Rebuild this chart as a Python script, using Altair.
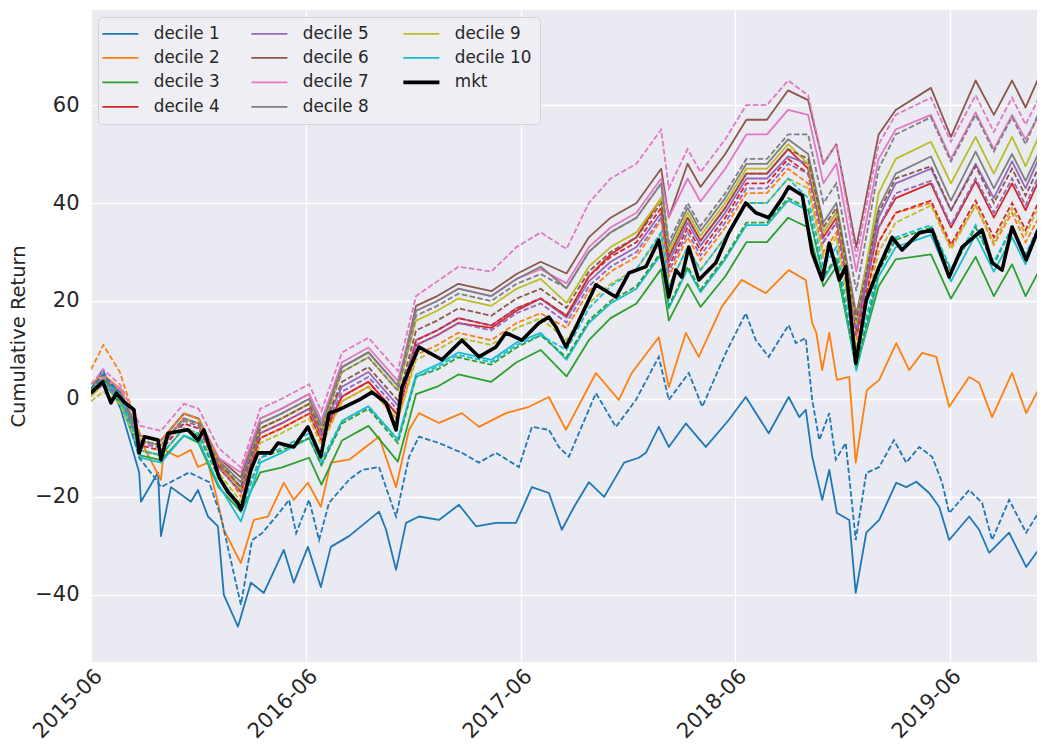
import altair as alt
import pandas as pd

START = pd.Timestamp("2015-06-01")

# ---- cluster series share one sampling grid ----
dates = ["2015-06-01", "2015-06-22", "2015-07-20", "2015-08-24", "2015-09-28", "2015-11-06",
         "2015-12-01", "2016-01-04", "2016-02-11", "2016-03-15", "2016-04-20", "2016-06-06",
         "2016-06-27", "2016-08-01", "2016-09-15", "2016-11-04", "2016-12-05", "2017-01-10",
         "2017-02-15", "2017-04-12", "2017-05-25", "2017-07-05", "2017-08-18", "2017-09-25",
         "2017-11-01", "2017-12-15", "2018-01-26", "2018-02-08", "2018-03-12", "2018-04-03",
         "2018-05-15", "2018-06-20", "2018-07-25", "2018-08-30", "2018-10-03", "2018-10-29",
         "2018-11-20", "2018-12-24", "2019-01-31", "2019-03-01", "2019-04-30", "2019-06-03",
         "2019-07-15", "2019-08-15", "2019-09-15", "2019-10-08", "2019-11-08"]

# ---- market (days since 2015-06-01, value) ----
mkt_days = [0, 20, 34, 43, 56, 73, 82, 91, 114, 119, 131, 165, 182, 192, 218, 233, 250, 255, 272, 284,
            306, 318, 345, 369, 391, 405, 422, 456, 478, 502, 519, 529, 541, 558, 597, 631, 660, 689, 706, 733,
            762, 779, 791, 808, 825, 859, 893, 915, 944, 966, 983, 995, 1005, 1017, 1034, 1063, 1085, 1114, 1131, 1153,
            1176, 1187, 1210, 1227, 1244, 1256, 1273, 1284, 1301, 1319, 1341, 1363, 1380, 1409, 1431, 1460, 1482, 1516, 1533, 1550,
            1567, 1591, 1618]
mkt = [1.2, 3.5, -0.8, 1.2, -0.6, -2.2, -11, -7.7, -8.4, -12.4, -7, -6.3, -8.4, -6.3, -16, -19, -21.3, -22.6, -14.5, -11,
       -11, -9, -9.8, -5.7, -11.8, -2.9, -2.2, -0.2, 1.4, -0.8, -6.3, 2.4, 5.9, 10.6, 8, 12, 8.6, 10.6, 13.5, 12,
       15.5, 16.7, 14.7, 10.6, 14.7, 23.3, 20.8, 25.7, 27, 32.4, 20.8, 26.3, 24.9, 31, 24.3, 27.8, 33.9, 40, 38, 37,
       41, 43.3, 41.6, 29.8, 24.3, 31.8, 24.3, 27, 7.3, 20.2, 27, 33, 30.4, 33.9, 34.5, 24.9, 31, 34.5, 27.8, 26.3,
       35.1, 28.4, 36.5]

# ---- decile 1 (solid) ----
d1_days = [0, 20, 51, 82, 85, 114, 119, 136, 170, 182, 199, 216, 226, 250, 272, 294, 328, 345, 369, 391,
           408, 439, 490, 502, 519, 536, 558, 592, 626, 655, 689, 723, 750, 779, 801, 822, 847, 873, 907, 932,
           944, 966, 983, 1012, 1046, 1085, 1114, 1153, 1187, 1205, 1216, 1227, 1244, 1256, 1269, 1290, 1301, 1319, 1341, 1370,
           1387, 1404, 1426, 1443, 1460, 1494, 1511, 1528, 1562, 1591, 1618]
d1 = [2, 6, -2.2, -15, -21, -15, -28, -18, -21, -18.6, -24, -26, -40, -46.5, -37.5, -39.6, -30.8, -37.5, -30.2, -38.4,
      -30.2, -28, -23, -26.7, -34.9, -25.3, -24, -24.7, -21.6, -26, -25.3, -25.3, -18, -19.2, -26.7, -22, -17, -20, -13, -12,
      -11, -5.7, -9.8, -5, -9.8, -4.3, 0.4, -7, 0.4, -3.7, -2.2, -11.8, -20.6, -14.5, -23.3, -24.7, -39.6, -27.3, -24.7, -17.1,
      -18, -16.9, -19.2, -22, -28.8, -24, -26.7, -31.4, -27.3, -34.3, -29.8]

# ---- decile 1 (dashed) ----
d1b_days = [0, 20, 51, 82, 111, 119, 167, 201, 221, 255, 274, 291, 315, 337, 349, 371, 388, 405, 439, 461,
            490, 519, 541, 558, 592, 631, 660, 689, 728, 750, 779, 796, 813, 859, 893, 927, 966, 983, 1017, 1040,
            1080, 1114, 1131, 1153, 1187, 1199, 1216, 1227, 1239, 1256, 1267, 1284, 1301, 1319, 1341, 1366, 1387, 1409, 1431, 1448,
            1460, 1494, 1516, 1533, 1562, 1591, 1618]
d1b = [2, 5, 1, -12, -16.5, -18, -15, -17, -24, -42, -28.8, -27.4, -24, -20.6, -27.4, -20.6, -28.8, -21.2, -16.5, -14.5,
       -13.9, -24, -11.8, -7.7, -9, -11, -13, -11, -13.9, -5.7, -6.3, -9.8, -11.8, 1.2, -5.7, -0.2, 8.6, -0.2, 5.3, -1.6,
       9.4, 17.5, 12, 8.6, 15.1, 11.4, 12.4, -0.2, -8.4, -2.9, -12.4, -9, -28.8, -15.1, -13.9, -8.4, -13, -9.8, -11.8, -17.1,
       -23.3, -18.6, -21.2, -28.8, -20.6, -27.3, -22]

# ---- decile 2 (solid) ----
d2_days = [0, 20, 51, 82, 119, 124, 148, 170, 182, 199, 216, 226, 255, 277, 301, 328, 345, 369, 391, 408,
           439, 490, 519, 541, 558, 592, 631, 660, 706, 745, 779, 808, 859, 898, 920, 966, 983, 1012, 1034, 1073,
           1107, 1148, 1187, 1216, 1227, 1234, 1244, 1256, 1269, 1290, 1301, 1320, 1341, 1370, 1392, 1414, 1438, 1460, 1494, 1511,
           1533, 1567, 1591, 1618]
d2 = [3, 5, 2, -8, -16.5, -10.4, -11.8, -10.4, -13.9, -13, -21.2, -26.7, -33.5, -24.7, -24, -17.1, -20.6, -17.1, -22, -13,
      -12.4, -7.7, -18, -6.3, -2.9, -4.9, -2.9, -5.7, -2.9, -1.6, 0.4, -6.3, 5.3, -0.2, 5.3, 12.6, 2.4, 13.5, 8.6, 18.8,
      24.3, 21.6, 26.3, 24.3, 15.5, 13.5, 5.9, 13.5, 3.9, 4.5, -13, 1.8, 3.9, 11.4, 5.9, 9.4, 8.6, -1.6, 4.5, 3.3,
      -3.7, 5.3, -2.9, 3.3]

# ---- the remaining solid deciles (on the shared grid) ----
d3 = [1, 3, -0.5, -11.5, -12.5, -7.5, -9, -18, -23, -15, -14, -12, -17.5, -8.5, -5.5, -12.8, 1, 2.5, 5, 3.5,
      7.5, 10, 4.6, 12, 16.5, 19.5, 26.5, 16, 23.5, 18.8, 25, 32, 32, 37, 35, 23, 27, 6.3, 23, 28.5,
      29.5, 20.5, 29, 21, 27.5, 21, 28]
d4 = [1, 3.5, 1, -8.5, -9.5, -4, -5, -13.5, -18, -7, -5, -2, -7.5, 0.5, 3.5, -3.3, 11, 13, 15.5, 14.5,
      18, 20.5, 17, 25, 29.5, 33, 41, 29, 37, 32.3, 39, 46, 46, 51, 47, 33, 37, 14, 35, 41,
      44, 35, 44.5, 37, 44, 38.5, 47]
d5 = [1.5, 3.5, 1, -8.5, -9.5, -4, -5, -13, -18, -6, -4, -1, -6.5, 2.5, 5.5, -1.3, 12, 14, 16.5, 15,
      18.5, 20.5, 16.6, 24, 28, 31, 38, 28, 36, 31.3, 38, 45, 45, 49.5, 48, 34, 38, 15, 37, 44,
      47, 38.5, 48, 41, 48.5, 43, 51.5]
d6 = [1.5, 4, 1.5, -7.5, -8.5, -3, -4, -12, -16, -4, -2, 1, -4.5, 6.5, 9.5, 2.7, 19, 21, 23.5, 22,
      25.5, 28, 25.6, 33, 37, 40, 47, 37, 48, 43.3, 50, 57, 57, 63, 61, 48, 52, 31, 54, 59,
      63.5, 53.5, 65, 58, 65, 59.5, 68]
d7 = [2, 4.5, 2, -7.5, -8.5, -3, -4, -12, -15, -4, -2, 1, -4.5, 7.5, 10.5, 3.7, 18, 20, 22.5, 21,
      24.5, 26.5, 23.6, 31, 35, 38, 45, 37, 45, 40.3, 47, 54, 54, 59, 58, 44, 48, 26, 49, 55,
      58, 49, 58.5, 51, 58, 53, 59.5]
d8 = [1.5, 4, 1.5, -7.5, -8.5, -3, -4, -12.5, -17, -5, -3, 0, -5.5, 6.5, 9.5, 2.7, 18, 20, 22.5, 21,
      24.5, 27, 22.6, 30, 34, 37, 44, 31, 39, 34.3, 41, 48, 48, 53, 50, 36, 40, 17.3, 39, 46,
      49.5, 40.5, 50.5, 43, 50, 44.5, 52.5]
d9 = [0.5, 3, 0, -8.5, -9.5, -4, -5, -13, -18.5, -6, -4, -1, -6.5, 5.5, 8.5, 1.7, 16, 18, 20.5, 19,
      22.5, 24.5, 19.6, 27, 31, 34, 41, 30, 38, 33.3, 40, 47, 47, 52, 48, 34, 38, 15.3, 42, 49,
      52.5, 44, 53.5, 46, 53.5, 47.5, 56]
d10 = [1.5, 3, 0, -12, -13, -7.5, -8.5, -17.5, -25, -13, -11, -8, -13.5, -4.5, -1.5, -8.3, 5, 7, 9.5, 8,
       11.5, 13.5, 8, 15.5, 19.5, 22.5, 29.5, 18.5, 26.5, 21.8, 28.5, 35.5, 35.5, 40.5, 38.5, 24.5, 28.5, 5.8, 25, 31,
       33.5, 24, 33.5, 26, 33, 27.5, 37]

# ---- dashed deciles 2..10 (on the shared grid) ----
d2b = [6, 11, 5.5, -7.5, -8.5, -3, -4, -12.5, -20, -8, -6, -3, -8.5, -0.5, 2.5, -4.3, 9, 11, 13.5, 12,
       15.5, 17.5, 14.5, 22, 26, 29, 36.5, 25, 33, 28.3, 35, 42, 42, 47, 44, 30, 34, 12, 32, 38,
       40, 31, 39.5, 31.5, 38, 32, 39]
d3b = [2, 4, 1, -10.5, -11.5, -6, -7.5, -16, -22, -12, -10.5, -8, -13.5, -5, -2, -9, 4.5, 6, 8.5, 7,
       10.5, 13, 8.5, 16, 20, 23, 30, 19, 27, 22.3, 29, 36, 36, 41, 39, 25, 29, 6.5, 26, 32.5,
       35, 26, 35, 27.5, 35, 29, 37]
d4b = [1.5, 3.5, 1, -9.5, -10.5, -5, -6, -14, -19, -8, -6, -3, -8.5, 0.5, 3.5, -3.3, 12, 14, 16.5, 15,
       18.5, 20.5, 17, 25, 29, 32, 39, 27, 35, 30.3, 37, 44, 44, 49, 46, 32, 36, 13, 32, 38,
       40.5, 31.5, 40.5, 33, 40, 34.5, 42.5]
d5b = [1, 3, 0.5, -9, -10, -4.5, -5.5, -14, -19, -7, -5, -2, -7.5, 1.5, 4.5, -2.3, 11, 13, 15.5, 14,
       17.5, 19.5, 15.6, 23, 27, 30, 37, 26, 34, 29.3, 36, 43, 43, 48, 46, 32, 36, 13.3, 35, 42,
       44.5, 35.5, 45, 38, 45, 39.5, 48]
d6b = [1.5, 3.5, 1, -8.5, -9.5, -4, -5, -13, -18, -6, -4, -1, -6.5, 3.5, 6.5, -0.3, 14, 16, 18.5, 17,
       20.5, 22.5, 18.6, 26, 30, 33, 40, 29, 37, 32.3, 39, 46, 46, 51, 49, 35, 39, 16, 38, 45,
       47.5, 38.5, 47.5, 40, 47, 41.5, 49.5]
d7b = [3, 6, 3, -5.5, -6.5, -1, -2, -10, -14, -2, 0, 3, -2.5, 9.5, 12.5, 5.7, 21, 24, 27, 26,
       31, 34, 30.6, 40, 45, 48, 55, 43, 51, 46.3, 53, 60, 60, 65, 62, 48, 52, 29, 52, 58,
       61.5, 52.5, 62, 54.5, 61.5, 56, 63.5]
d8b = [1.5, 3.5, 1, -8.5, -9.5, -4, -5, -13, -17, -5, -3, 0, -5.5, 5.5, 8.5, 1.7, 17, 19, 21.5, 20,
       23.5, 25.5, 22.6, 30, 34, 37, 44, 32, 40, 35.3, 42, 49, 49, 54, 54, 40, 44, 22, 47, 54,
       57.5, 48.5, 58, 50.5, 57.5, 52, 61]
d9b = [-0.5, 1.5, -1, -10.5, -11.5, -6, -7, -15, -21, -9, -7, -4, -9.5, -0.5, 2.5, -4.3, 8, 10, 12.5, 11,
       14.5, 16.5, 12, 19.5, 23.5, 26.5, 33.5, 23, 31, 26.3, 33, 40, 40, 45, 43, 29, 33, 10.3, 30, 36,
       39.5, 30.5, 39.5, 32, 39, 33.5, 41.5]
d10b = [1.5, 3.5, 1, -10.5, -11.5, -6, -7, -15.5, -23, -12, -10, -7, -12.5, -4.5, -1.5, -8.3, 4.5, 6.5, 9, 7.5,
        11, 13, 10, 18.5, 23, 26.5, 34, 23, 31, 26.3, 33, 40, 40, 45, 41, 27, 31, 8.3, 27, 33,
        35.5, 26.5, 35.5, 28, 35, 29.5, 37.5]

names = [f"decile {i}" for i in range(1, 11)]
colors = ["#1f77b4", "#ff7f0e", "#2ca02c", "#d62728", "#9467bd",
          "#8c564b", "#e377c2", "#7f7f7f", "#bcbd22", "#17becf"]

grid = pd.to_datetime(dates)


def from_days(days):
    return [START + pd.Timedelta(days=d) for d in days]


solid_src = [(from_days(d1_days), d1), (from_days(d2_days), d2)] + \
            [(grid, s) for s in [d3, d4, d5, d6, d7, d8, d9, d10]]
dash_src = [(from_days(d1b_days), d1b)] + \
           [(grid, s) for s in [d2b, d3b, d4b, d5b, d6b, d7b, d8b, d9b, d10b]]

rows_s, rows_d = [], []
for n, c, (t_s, v_s), (t_d, v_d) in zip(names, colors, solid_src, dash_src):
    assert len(t_s) == len(v_s) and len(t_d) == len(v_d)
    rows_s += [{"date": t, "value": v, "series": n} for t, v in zip(t_s, v_s)]
    rows_d += [{"date": t, "value": v, "series": n + " b", "hex": c} for t, v in zip(t_d, v_d)]
assert len(mkt_days) == len(mkt)
df_s = pd.DataFrame(rows_s)
df_d = pd.DataFrame(rows_d)
df_m = pd.DataFrame({"date": from_days(mkt_days), "value": mkt, "series": "mkt"})

legend_order = names + ["mkt"]
crange = colors + ["#000000"]

xs = alt.X("date:T",
           scale=alt.Scale(domain=[alt.DateTime(year=2015, month=6, date=1),
                                   alt.DateTime(year=2019, month=10, date=27, hours=10)], nice=False),
           axis=alt.Axis(values=[alt.DateTime(year=y, month=6, date=1) for y in range(2015, 2020)],
                         format="%Y-%m", labelAngle=315, labelAlign="right", labelBaseline="top",
                         labelPadding=3, labelFontSize=21, title=None))
ys = alt.Y("value:Q",
           scale=alt.Scale(domain=[-53.7, 79.4], nice=False, zero=False),
           axis=alt.Axis(values=[-40, -20, 0, 20, 40, 60], title="Cumulative Return",
                         labelPadding=12, titlePadding=6, labelFontSize=21))

color_enc = alt.Color("series:N", scale=alt.Scale(domain=legend_order, range=crange),
                      legend=alt.Legend(title=None,
                                        symbolStrokeWidth=alt.ExprRef("datum.value === 'mkt' ? 3.6 : 1.8")))

solid_layer = alt.Chart(df_s).mark_line(clip=True, strokeWidth=1.8, strokeJoin="round").encode(
    x=xs, y=ys, color=color_enc, detail="series:N")
dash_layer = alt.Chart(df_d).mark_line(clip=True, strokeDash=[5.5, 2.4], strokeWidth=1.8).encode(
    x=xs, y=ys, color=alt.Color("hex:N", scale=None), detail="series:N")
mkt_layer = alt.Chart(df_m).mark_line(clip=True, strokeWidth=3.6, strokeJoin="round").encode(
    x=xs, y=ys, color=color_enc)

chart = alt.layer(solid_layer, dash_layer, mkt_layer).properties(
    width=946, height=652,
    padding={"left": 0, "top": 2, "right": 0, "bottom": 0},
).configure(font="DejaVu Sans").configure_view(
    fill="#EAEAF2", strokeWidth=0
).configure_axis(
    grid=True, gridColor="#FFFFFF", gridWidth=1.3, ticks=False, domain=False,
    labelColor="#262626", labelFont="DejaVu Sans",
    titleFontSize=19.5, titleFontWeight="normal", titleColor="#262626", titleFont="DejaVu Sans"
).configure_legend(
    orient="top-left", offset=7, columns=3, fillColor="#EEEEF4", strokeColor="#D2D2D8",
    cornerRadius=4, padding=8, labelFontSize=16.8, labelColor="#262626", labelFont="DejaVu Sans",
    symbolType="M-1,0H2", symbolSize=576, labelOffset=31, columnPadding=27, rowPadding=6.5
)

chart.save("out.html", embed_options={"renderer": "svg", "actions": False})
